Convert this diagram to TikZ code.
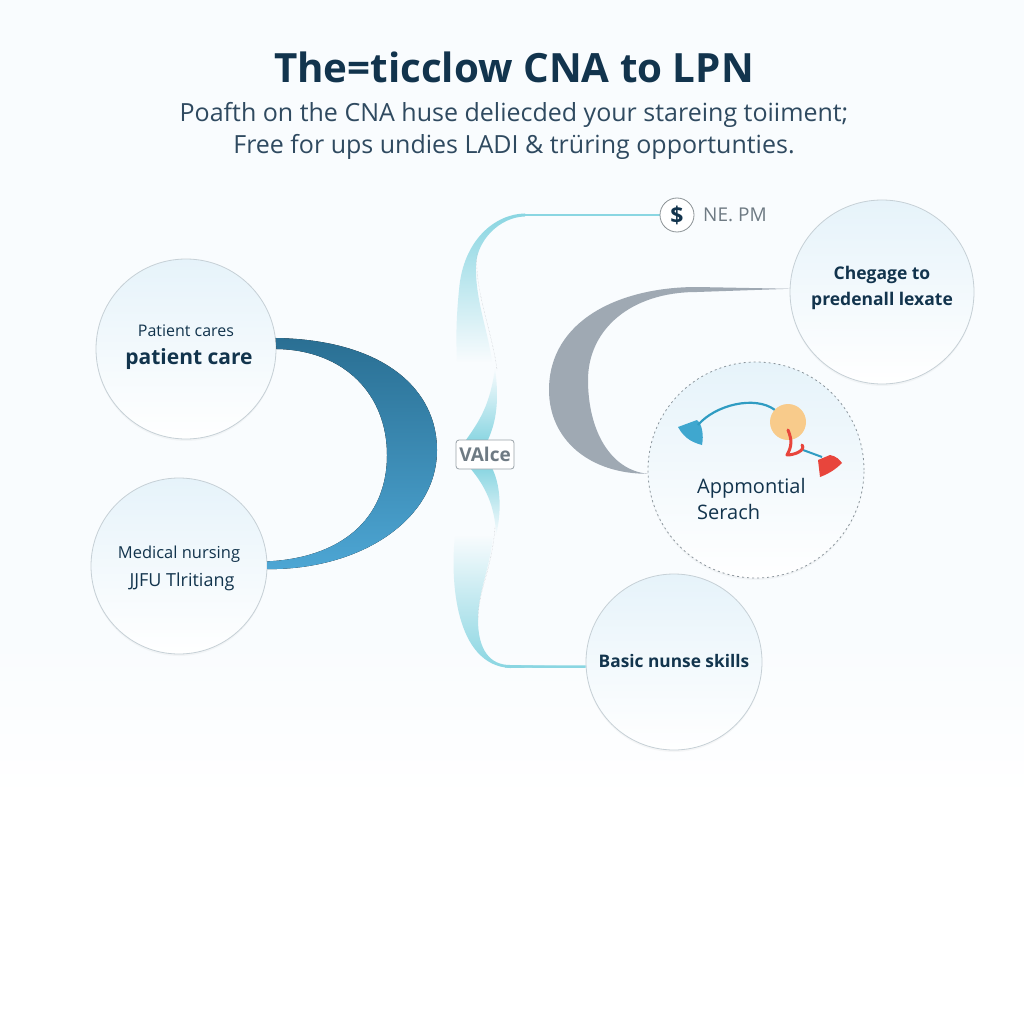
\documentclass[tikz,border=0pt]{standalone}
\usepackage{fontspec}
\setmainfont{Open Sans}
\usetikzlibrary{arrows,shadows,fadings}

\definecolor{inkdark}{HTML}{12344D}
\definecolor{inksub}{HTML}{2F4A60}
\definecolor{ringgray}{HTML}{C6D0D6}
\definecolor{bubbletop}{HTML}{E6F3FA}
\definecolor{bubblemid}{HTML}{F8FCFE}
\definecolor{paletop}{HTML}{F9FCFE}
\definecolor{ribbonteal}{HTML}{8AD6E2}
\definecolor{ribbongray}{HTML}{9FA9B3}
\definecolor{labelgray}{HTML}{6E7A83}
\definecolor{creststart}{HTML}{2A6F93}
\definecolor{crestend}{HTML}{4DA6D4}
\definecolor{iconblue}{HTML}{3FA7CF}
\definecolor{iconline}{HTML}{2F9CC2}
\definecolor{iconorange}{HTML}{F8CB8B}
\definecolor{iconred}{HTML}{E8453C}

\tikzset{
  bubble/.style={circle, draw=ringgray, line width=0.8pt, top color=bubbletop, middle color=bubblemid, bottom color=white, inner sep=0pt, align=center, text=inkdark, drop shadow={opacity=0.06, shadow xshift=0pt, shadow yshift=-2pt}},
  smalltext/.style={text=inkdark, inner sep=0pt, align=center},
  fadedown/.style={fill=ribbonteal, path fading=south},
  fadeup/.style={fill=ribbonteal, path fading=north},
  edgeline/.style={labelgray!45, line width=0.4pt, densely dotted},
}

\begin{document}
\begin{tikzpicture}[x=1pt,y=-1pt]
  \useasboundingbox (0,0) rectangle (1024,1024);

  % faint background
  \fill[white] (0,0) rectangle (1024,1024);
  \fill[paletop] (0,0) rectangle (1024,640);
  \fill[top color=paletop, bottom color=white] (0,640) rectangle (1024,800);

  % title and subtitle
  \node[inner sep=0pt, text=inkdark, font=\fontsize{40.3}{46}\selectfont\bfseries] (title) at (514,67) {The=ticclow CNA to LPN};
  \node[inner sep=0pt, text=inksub, align=center, font=\fontsize{25}{32}\selectfont] (subtitle) at (514,131) {Poafth on the CNA huse deliecded your stareing toiiment;\\ Free for ups undies LADI \& trüring opportunties.};

  % bubbles
  \node[bubble, minimum size=180pt] (care) at (186,349) {};
  \node[bubble, minimum size=176pt] (nursing) at (179,566) {};
  \node[bubble, minimum size=184pt] (charge) at (882,292) {};
  \node[bubble, minimum size=216pt, draw=labelgray!80, dash pattern=on 2pt off 3pt] (search) at (756,470) {};
  \node[bubble, minimum size=176pt] (skills) at (674,662) {};

  % blue crescent
  \fill[top color=creststart, bottom color=crestend] (care.7) .. controls (385,340) and (437,390) .. (437,450) .. controls (437,520) and (360,570) .. (nursing.-2) -- (nursing.3) .. controls (340,558) and (387,520) .. (387,455) .. controls (387,395) and (345,350) .. (care.0) -- cycle;

  % gray crescent
  \fill[ribbongray] (charge.178) -- (697,287) .. controls (620,287) and (549,320) .. (549,390) .. controls (549,440) and (590,474) .. (search.182) .. controls (610,470) and (588,430) .. (588,380) .. controls (588,330) and (630,292) .. (697,292) -- (charge.178) -- cycle;

  % teal ribbons
  \coordinate (dollar) at (660,215);
  \draw[ribbonteal, line width=2.6pt] (dollar) -- (525,215);
  \fill[fadedown] (525,213.5) .. controls (495,214) and (463,240) .. (459,290) .. controls (456,320) and (456,340) .. (457,362) -- (492,362) .. controls (488,330) and (475,300) .. (476,265) .. controls (477,240) and (500,217) .. (525,216.5) -- cycle;
  \draw[edgeline] (477,253) .. controls (474,290) and (492,330) .. (497,370);
  \fill[fadeup] (495,368) .. controls (490,405) and (480,420) .. (466,440) -- (487,442) .. controls (495,425) and (500,405) .. (495,368) -- cycle;
  \fill[fadedown] (470,468) .. controls (480,480) and (495,500) .. (496,535) .. controls (500,520) and (503,490) .. (492,468) -- cycle;
  \fill[fadeup] (455,535) .. controls (450,580) and (455,665) .. (510,668) -- (skills.183) -- (510,665) .. controls (490,665) and (478,650) .. (478,620) .. controls (478,590) and (490,570) .. (493,535) -- cycle;
  \draw[edgeline] (495,527) .. controls (492,570) and (478,590) .. (478,620);
  \draw[ribbonteal, line width=2.4pt] (skills.183) -- (505,666.5);

  % dollar badge
  \node[circle, draw=ringgray!70!black, line width=0.8pt, fill=white, minimum size=34pt, inner sep=0pt, text=inkdark, font=\fontsize{23}{24}\selectfont\bfseries] (badge) at (677,215) {\$};
  \node[anchor=west, inner sep=0pt, text=labelgray, font=\fontsize{19}{22}\selectfont] (badgelabel) at (703,215) {NE. PM};

  % value tag
  \node[draw=labelgray!70, fill=white, rounded corners=3pt, line width=0.8pt, minimum width=58pt, minimum height=29pt, inner sep=0pt, text=labelgray, font=\fontsize{19}{22}\selectfont\bfseries] (tag) at (485,454.5) {VAlce};

  % bubble labels
  \node[smalltext, font=\fontsize{16}{20}\selectfont] (carea) at (186,331) {Patient cares};
  \node[smalltext, font=\fontsize{21}{24}\selectfont\bfseries] (careb) at (189,359) {patient care};
  \node[smalltext, font=\fontsize{16.5}{20}\selectfont] (nursea) at (179,554) {Medical nursing};
  \node[smalltext, font=\fontsize{18}{20}\selectfont] (nurseb) at (182,582) {JJFU Tlritiang};
  \node[smalltext, font=\fontsize{17.5}{26}\selectfont\bfseries] (chargetext) at (882,288) {Chegage to\\ predenall lexate};
  \node[smalltext, font=\fontsize{20}{26}\selectfont, align=left, anchor=west] (searchtext) at (697,499) {Appmontial\\ Serach};
  \node[smalltext, font=\fontsize{17.3}{20}\selectfont\bfseries] (skillstext) at (674,661) {Basic nunse skills};

  % icon in the dashed bubble
  \fill[iconblue] (678,427) -- (697,420) .. controls (702,424) and (704,435) .. (702,445) .. controls (695,443) and (685,440) .. cycle;
  \draw[iconline, line width=2.2pt] (698,425) .. controls (715,405) and (755,395) .. (775,410);
  \fill[iconorange] (788,422) circle (18);
  \draw[iconline, line width=2pt] (803,450) -- (822,457);
  \draw[iconred, line width=3pt, line cap=round, line join=round] (788,430) .. controls (792,440) and (792,446) .. (787,455) .. controls (795,455) and (806,450) .. (802,445);
  \fill[iconred] (818,460) -- (830,455) .. controls (836,456) and (840,460) .. (842,463) .. controls (835,470) and (828,474) .. (820,477) -- cycle;
\end{tikzpicture}
\end{document}
